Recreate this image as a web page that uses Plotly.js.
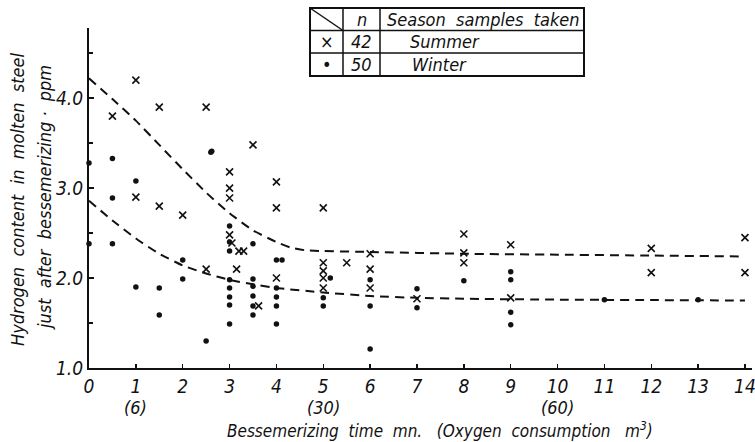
<!DOCTYPE html>
<html>
<head>
<meta charset="utf-8">
<script src="https://cdn.plot.ly/plotly-3.0.1.min.js"></script>
<style>html,body{margin:0;padding:0;background:#fff;}#chart{width:755px;height:442px;}</style>
</head>
<body>
<div id="chart"></div>
<script>
// Summer samples (×), n = 42
const summerTime = [0.5, 1, 1, 1.5, 1.5, 2, 2.5, 2.5, 3, 3, 3, 3, 3.05, 3.2, 3.3, 3.15, 3.5, 3.62, 4, 4, 4, 5, 5, 5, 5, 5, 5.5, 6, 6, 6, 7, 8, 8, 8, 9, 9, 12, 12, 14, 14];
const summerH2   = [3.8, 4.2, 2.9, 3.9, 2.8, 2.7, 3.9, 2.1, 3.18, 3.0, 2.89, 2.48, 2.39, 2.3, 2.3, 2.1, 3.48, 1.69, 3.07, 2.78, 2.0, 2.78, 2.17, 2.08, 2.0, 1.89, 2.17, 2.27, 2.1, 1.89, 1.77, 2.49, 2.28, 2.17, 2.37, 1.78, 2.33, 2.06, 2.45, 2.06];
// Winter samples (•), n = 50
const winterTime = [0, 0, 0.5, 0.5, 0.5, 1, 1, 1.5, 1.5, 2, 2, 2.5, 2.6, 2.62, 3, 3, 3, 3, 3, 3, 3, 3, 3.5, 3.5, 3.5, 3.5, 3.5, 3.5, 4, 4.12, 4, 4, 4, 4, 5.15, 5, 5, 6, 6, 6, 7, 7, 8, 9, 9, 9, 9, 11, 13];
const winterH2   = [3.28, 2.38, 3.33, 2.89, 2.38, 3.08, 1.9, 1.89, 1.59, 2.2, 1.99, 1.3, 3.4, 3.41, 2.58, 2.4, 2.3, 1.98, 1.89, 1.79, 1.7, 1.49, 2.38, 1.99, 1.91, 1.8, 1.69, 1.59, 2.2, 2.2, 1.89, 1.79, 1.69, 1.49, 2.0, 1.78, 1.69, 1.98, 1.69, 1.21, 1.88, 1.67, 1.97, 2.07, 1.98, 1.62, 1.48, 1.76, 1.76];
// Dashed trend curves
const summerCurveTime = [0, 0.5, 1, 1.5, 2, 2.5, 3, 3.5, 4, 4.3, 4.6, 5, 6, 8, 10, 12, 14];
const summerCurve     = [4.22, 3.99, 3.75, 3.48, 3.21, 2.95, 2.72, 2.53, 2.4, 2.34, 2.31, 2.3, 2.29, 2.27, 2.26, 2.25, 2.24];
const winterCurveTime = [0, 0.5, 1, 1.5, 2, 2.5, 3, 3.5, 4, 5, 6, 7, 8, 10, 12, 14];
const winterCurve     = [2.86, 2.64, 2.44, 2.27, 2.14, 2.05, 1.98, 1.93, 1.89, 1.84, 1.80, 1.78, 1.77, 1.76, 1.755, 1.75];
// Axis ticks
const xTicks = [0,1,2,3,4,5,6,7,8,9,10,11,12,13,14];
const xSubTicks = [1, 5, 10];
const xSubLabels = ['(6)', '(30)', '(60)'];
const yTicks = [1.0, 2.0, 3.0, 4.0];
const yTickLabels = ['1.0', '2.0', '3.0', '4.0'];

const FONT = '"Liberation Sans Narrow", "DejaVu Sans Condensed", "Liberation Sans", sans-serif';
const L = 89, R = 3, T = 28, B = 74, W = 755, H = 442;
const pw = W - L - R, ph = H - T - B;
const px = v => (v - L) / pw;
const py = v => (H - B - v) / ph;

const traces = [
  {x: summerCurveTime, y: summerCurve, mode: 'lines', line: {color: '#111', width: 2, dash: '9px,6px', shape: 'spline', smoothing: 0.5}, hoverinfo: 'skip', cliponaxis: false},
  {x: winterCurveTime, y: winterCurve, mode: 'lines', line: {color: '#111', width: 2, dash: '9px,6px', shape: 'spline', smoothing: 0.5}, hoverinfo: 'skip', cliponaxis: false},
  {x: summerTime, y: summerH2, mode: 'markers', name: 'Summer', cliponaxis: false,
   marker: {symbol: 'x-thin', size: 7, line: {width: 1.6, color: '#111'}, color: '#111'}},
  {x: winterTime, y: winterH2, mode: 'markers', name: 'Winter', cliponaxis: false,
   marker: {symbol: 'circle', size: 5.5, color: '#111'}}
];

const annotations = [];
xSubTicks.forEach((t, i) => {
  annotations.push({x: t, xref: 'x', y: py(407), yref: 'paper', text: '<i>' + xSubLabels[i] + '</i>', showarrow: false,
    font: {family: FONT, size: 18, color: '#111'}, xanchor: 'center', yanchor: 'middle'});
});
annotations.push({x: px(440), xref: 'paper', y: py(430), yref: 'paper', showarrow: false,
  text: '<i>Bessemerizing  time  mn.   (Oxygen  consumption   m<sup>3</sup>)</i>',
  font: {family: FONT, size: 17, color: '#111'}, xanchor: 'center', yanchor: 'middle'});
annotations.push({x: px(17), xref: 'paper', y: py(200), yref: 'paper', showarrow: false, textangle: -90,
  text: '<i>Hydrogen  content  in  molten  steel</i>',
  font: {family: FONT, size: 18, color: '#111'}, xanchor: 'center', yanchor: 'middle'});
annotations.push({x: px(44), xref: 'paper', y: py(198), yref: 'paper', showarrow: false, textangle: -90,
  text: '<i>just  after  bessemerizing ·  ppm</i>',
  font: {family: FONT, size: 18, color: '#111'}, xanchor: 'center', yanchor: 'middle'});

// Legend table
const tx0 = 310, tx1 = 343, tx2 = 380, tx3 = 584;
const ty0 = 8, ty1 = 30.5, ty2 = 53, ty3 = 76;
const cell = (xc, yc, txt, anchor) => annotations.push({x: px(xc), xref: 'paper', y: py(yc), yref: 'paper', showarrow: false,
  text: txt, font: {family: FONT, size: 18, color: '#111'}, xanchor: anchor || 'center', yanchor: 'middle'});
cell((tx1 + tx2) / 2, (ty0 + ty1) / 2, '<i>n</i>');
cell(385, (ty0 + ty1) / 2, '<i>Season  samples  taken</i>', 'left');
cell((tx0 + tx1) / 2, (ty1 + ty2) / 2, '×');
cell((tx1 + tx2) / 2, (ty1 + ty2) / 2, '<i>42</i>');
cell(408, (ty1 + ty2) / 2, '<i>Summer</i>', 'left');
cell((tx0 + tx1) / 2, (ty2 + ty3) / 2, '•');
cell((tx1 + tx2) / 2, (ty2 + ty3) / 2, '<i>50</i>');
cell(410, (ty2 + ty3) / 2, '<i>Winter</i>', 'left');

const ln = (x0, y0, x1, y1) => ({type: 'line', xref: 'paper', yref: 'paper', x0: px(x0), y0: py(y0), x1: px(x1), y1: py(y1),
  line: {color: '#111', width: 1.5}});
const shapes = [
  {type: 'rect', xref: 'paper', yref: 'paper', x0: px(tx0), y0: py(ty0), x1: px(tx3), y1: py(ty3), line: {color: '#111', width: 2}},
  ln(tx0, ty1, tx3, ty1), ln(tx0, ty2, tx3, ty2),
  ln(tx1, ty0, tx1, ty3), ln(tx2, ty0, tx2, ty3),
  ln(tx0, ty0, tx1, ty1)
];

const layout = {
  width: W, height: H,
  margin: {l: L, r: R, t: T, b: B},
  paper_bgcolor: '#fff', plot_bgcolor: '#fff',
  showlegend: false,
  font: {family: FONT, color: '#111'},
  xaxis: {
    range: [0, 14.15], tickvals: xTicks, ticktext: xTicks.map(String),
    showgrid: false, zeroline: false, showline: true, linecolor: '#111', linewidth: 2,
    ticks: 'inside', ticklen: 4, tickcolor: '#111', tickwidth: 1.5,
    ticklabeloverflow: 'allow',
    tickfont: {family: FONT, size: 19, color: '#111', style: 'italic'}
  },
  yaxis: {
    range: [1, 4.78], tickvals: yTicks, ticktext: yTickLabels,
    minor: {tickvals: [1.5, 2.5, 3.5, 4.5], ticks: 'inside', ticklen: 4, tickcolor: '#111'},
    showgrid: false, zeroline: false, showline: true, linecolor: '#111', linewidth: 2,
    ticks: 'inside', ticklen: 5, tickcolor: '#111', tickwidth: 1.5,
    tickfont: {family: FONT, size: 19, color: '#111', style: 'italic'}
  },
  annotations: annotations,
  shapes: shapes
};

Plotly.newPlot('chart', traces, layout, {staticPlot: true, displayModeBar: false});
</script>
</body>
</html>
